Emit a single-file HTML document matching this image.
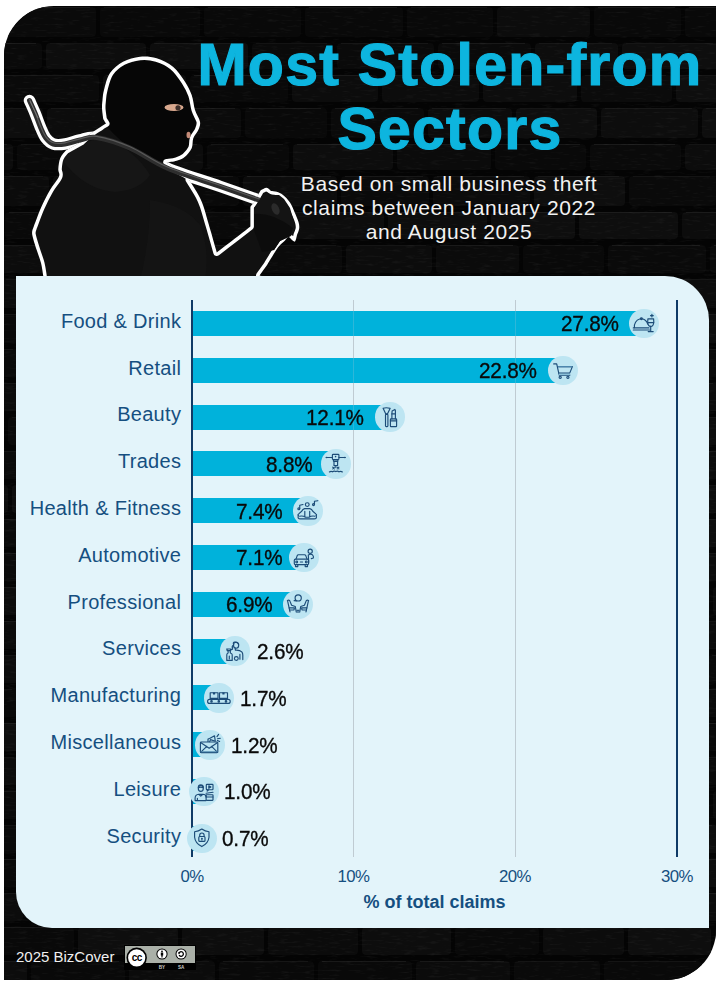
<!DOCTYPE html>
<html><head><meta charset="utf-8">
<style>
html,body{margin:0;padding:0;width:720px;height:986px;overflow:hidden;background:#fff;font-family:"Liberation Sans",sans-serif;}
.frame{position:absolute;left:4px;top:6px;width:712px;height:974px;background:#040404;border-radius:50px 0 50px 0;overflow:hidden}
.panel{position:absolute;left:16px;top:276px;width:693px;height:652px;background:#e3f4fa;border-radius:0 44px 0 36px}
.title{position:absolute;left:90px;width:720px;text-align:center;color:#0db5df;font-weight:bold;white-space:nowrap;-webkit-text-stroke:1.2px #0db5df}
.sub{position:absolute;left:250.5px;width:397px;text-align:center;color:#f2f2f2;font-size:21px;line-height:24px;letter-spacing:0.6px;white-space:nowrap}
.lab{position:absolute;right:538.8px;font-size:20px;color:#154f80;white-space:nowrap;line-height:24px;letter-spacing:0.3px}
.bar{position:absolute;left:193px;height:25px;background:#00b2db}
.circ{position:absolute;width:29.5px;height:29.5px;border-radius:50%;background:#bde5f2}
.pct{position:absolute;font-size:22.5px;letter-spacing:-0.2px;-webkit-text-stroke:0.35px #0a0a0a;color:#0a0a0a;white-space:nowrap;line-height:24px}
.axis{position:absolute;left:191px;top:300px;width:2px;height:557px;background:#0f3a66}
.grid{position:absolute;top:300px;width:1px;height:557px;background:#c3cdd2}
.tick{position:absolute;top:866.8px;font-size:16.8px;letter-spacing:-0.55px;color:#154f80;width:60px;text-align:center;white-space:nowrap}
.xt{position:absolute;top:892px;left:192px;width:485px;text-align:center;font-weight:bold;font-size:18px;color:#154f80}
.foot{position:absolute;left:16px;top:948px;font-size:15px;color:#f0f0f0;white-space:nowrap}
</style></head><body>
<div class="frame"><!--BRICKS--><svg width="712" height="974" style="position:absolute;left:0;top:0"><rect x="2" y="1" width="90" height="30" rx="4" fill="rgb(10,10,10)"/><path d="M6,1.5 H86" stroke="rgb(30,30,30)" stroke-width="1" opacity="0.7"/><rect x="96" y="1" width="100" height="30" rx="4" fill="rgb(9,9,9)"/><path d="M100,1.5 H190" stroke="rgb(25,25,25)" stroke-width="1" opacity="0.7"/><rect x="200" y="1" width="97" height="30" rx="4" fill="rgb(9,9,9)"/><path d="M204,1.5 H291" stroke="rgb(29,29,29)" stroke-width="1" opacity="0.7"/><rect x="301" y="1" width="98" height="30" rx="4" fill="rgb(9,9,9)"/><path d="M305,1.5 H393" stroke="rgb(32,32,32)" stroke-width="1" opacity="0.7"/><rect x="403" y="1" width="86" height="30" rx="4" fill="rgb(9,9,9)"/><path d="M407,1.5 H483" stroke="rgb(25,25,25)" stroke-width="1" opacity="0.7"/><rect x="493" y="1" width="93" height="30" rx="4" fill="rgb(12,12,12)"/><path d="M497,1.5 H580" stroke="rgb(25,25,25)" stroke-width="1" opacity="0.7"/><rect x="590" y="1" width="87" height="30" rx="4" fill="rgb(9,9,9)"/><path d="M594,1.5 H671" stroke="rgb(32,32,32)" stroke-width="1" opacity="0.7"/><rect x="681" y="1" width="93" height="30" rx="4" fill="rgb(9,9,9)"/><path d="M685,1.5 H768" stroke="rgb(33,33,33)" stroke-width="1" opacity="0.7"/><rect x="-45" y="37" width="83" height="26" rx="4" fill="rgb(10,10,10)"/><path d="M-41,37.5 H32" stroke="rgb(34,34,34)" stroke-width="1" opacity="0.7"/><rect x="42" y="37" width="100" height="26" rx="4" fill="rgb(13,13,13)"/><path d="M46,37.5 H136" stroke="rgb(24,24,24)" stroke-width="1" opacity="0.7"/><rect x="146" y="37" width="98" height="26" rx="4" fill="rgb(13,13,13)"/><path d="M150,37.5 H238" stroke="rgb(30,30,30)" stroke-width="1" opacity="0.7"/><rect x="248" y="37" width="81" height="26" rx="4" fill="rgb(10,10,10)"/><path d="M252,37.5 H323" stroke="rgb(24,24,24)" stroke-width="1" opacity="0.7"/><rect x="333" y="37" width="97" height="26" rx="4" fill="rgb(10,10,10)"/><path d="M337,37.5 H424" stroke="rgb(28,28,28)" stroke-width="1" opacity="0.7"/><rect x="434" y="37" width="93" height="26" rx="4" fill="rgb(10,10,10)"/><path d="M438,37.5 H521" stroke="rgb(32,32,32)" stroke-width="1" opacity="0.7"/><rect x="531" y="37" width="83" height="26" rx="4" fill="rgb(13,13,13)"/><path d="M535,37.5 H608" stroke="rgb(28,28,28)" stroke-width="1" opacity="0.7"/><rect x="618" y="37" width="97" height="26" rx="4" fill="rgb(14,14,14)"/><path d="M622,37.5 H709" stroke="rgb(26,26,26)" stroke-width="1" opacity="0.7"/><rect x="-92" y="69" width="83" height="27" rx="4" fill="rgb(13,13,13)"/><path d="M-88,69.5 H-15" stroke="rgb(33,33,33)" stroke-width="1" opacity="0.7"/><rect x="-5" y="69" width="100" height="27" rx="4" fill="rgb(10,10,10)"/><path d="M-1,69.5 H89" stroke="rgb(29,29,29)" stroke-width="1" opacity="0.7"/><rect x="99" y="69" width="83" height="27" rx="4" fill="rgb(13,13,13)"/><path d="M103,69.5 H176" stroke="rgb(25,25,25)" stroke-width="1" opacity="0.7"/><rect x="186" y="69" width="98" height="27" rx="4" fill="rgb(9,9,9)"/><path d="M190,69.5 H278" stroke="rgb(33,33,33)" stroke-width="1" opacity="0.7"/><rect x="288" y="69" width="86" height="27" rx="4" fill="rgb(12,12,12)"/><path d="M292,69.5 H368" stroke="rgb(34,34,34)" stroke-width="1" opacity="0.7"/><rect x="378" y="69" width="97" height="27" rx="4" fill="rgb(12,12,12)"/><path d="M382,69.5 H469" stroke="rgb(29,29,29)" stroke-width="1" opacity="0.7"/><rect x="479" y="69" width="94" height="27" rx="4" fill="rgb(13,13,13)"/><path d="M483,69.5 H567" stroke="rgb(31,31,31)" stroke-width="1" opacity="0.7"/><rect x="577" y="69" width="91" height="27" rx="4" fill="rgb(11,11,11)"/><path d="M581,69.5 H662" stroke="rgb(27,27,27)" stroke-width="1" opacity="0.7"/><rect x="672" y="69" width="85" height="27" rx="4" fill="rgb(14,14,14)"/><path d="M676,69.5 H751" stroke="rgb(27,27,27)" stroke-width="1" opacity="0.7"/><rect x="-43" y="102" width="82" height="30" rx="4" fill="rgb(13,13,13)"/><path d="M-39,102.5 H33" stroke="rgb(28,28,28)" stroke-width="1" opacity="0.7"/><rect x="43" y="102" width="96" height="30" rx="4" fill="rgb(12,12,12)"/><path d="M47,102.5 H133" stroke="rgb(29,29,29)" stroke-width="1" opacity="0.7"/><rect x="143" y="102" width="94" height="30" rx="4" fill="rgb(11,11,11)"/><path d="M147,102.5 H231" stroke="rgb(33,33,33)" stroke-width="1" opacity="0.7"/><rect x="241" y="102" width="82" height="30" rx="4" fill="rgb(9,9,9)"/><path d="M245,102.5 H317" stroke="rgb(32,32,32)" stroke-width="1" opacity="0.7"/><rect x="327" y="102" width="93" height="30" rx="4" fill="rgb(10,10,10)"/><path d="M331,102.5 H414" stroke="rgb(29,29,29)" stroke-width="1" opacity="0.7"/><rect x="424" y="102" width="84" height="30" rx="4" fill="rgb(12,12,12)"/><path d="M428,102.5 H502" stroke="rgb(30,30,30)" stroke-width="1" opacity="0.7"/><rect x="512" y="102" width="81" height="30" rx="4" fill="rgb(14,14,14)"/><path d="M516,102.5 H587" stroke="rgb(25,25,25)" stroke-width="1" opacity="0.7"/><rect x="597" y="102" width="97" height="30" rx="4" fill="rgb(13,13,13)"/><path d="M601,102.5 H688" stroke="rgb(29,29,29)" stroke-width="1" opacity="0.7"/><rect x="698" y="102" width="90" height="30" rx="4" fill="rgb(14,14,14)"/><path d="M702,102.5 H782" stroke="rgb(29,29,29)" stroke-width="1" opacity="0.7"/><rect x="-90" y="138" width="99" height="26" rx="4" fill="rgb(12,12,12)"/><path d="M-86,138.5 H3" stroke="rgb(33,33,33)" stroke-width="1" opacity="0.7"/><rect x="13" y="138" width="94" height="26" rx="4" fill="rgb(9,9,9)"/><path d="M17,138.5 H101" stroke="rgb(25,25,25)" stroke-width="1" opacity="0.7"/><rect x="111" y="138" width="88" height="26" rx="4" fill="rgb(12,12,12)"/><path d="M115,138.5 H193" stroke="rgb(34,34,34)" stroke-width="1" opacity="0.7"/><rect x="203" y="138" width="82" height="26" rx="4" fill="rgb(9,9,9)"/><path d="M207,138.5 H279" stroke="rgb(28,28,28)" stroke-width="1" opacity="0.7"/><rect x="289" y="138" width="100" height="26" rx="4" fill="rgb(13,13,13)"/><path d="M293,138.5 H383" stroke="rgb(34,34,34)" stroke-width="1" opacity="0.7"/><rect x="393" y="138" width="94" height="26" rx="4" fill="rgb(11,11,11)"/><path d="M397,138.5 H481" stroke="rgb(30,30,30)" stroke-width="1" opacity="0.7"/><rect x="491" y="138" width="91" height="26" rx="4" fill="rgb(9,9,9)"/><path d="M495,138.5 H576" stroke="rgb(31,31,31)" stroke-width="1" opacity="0.7"/><rect x="586" y="138" width="91" height="26" rx="4" fill="rgb(10,10,10)"/><path d="M590,138.5 H671" stroke="rgb(33,33,33)" stroke-width="1" opacity="0.7"/><rect x="681" y="138" width="83" height="26" rx="4" fill="rgb(12,12,12)"/><path d="M685,138.5 H758" stroke="rgb(24,24,24)" stroke-width="1" opacity="0.7"/><rect x="-41" y="170" width="86" height="30" rx="4" fill="rgb(11,11,11)"/><path d="M-37,170.5 H39" stroke="rgb(26,26,26)" stroke-width="1" opacity="0.7"/><rect x="49" y="170" width="87" height="30" rx="4" fill="rgb(12,12,12)"/><path d="M53,170.5 H130" stroke="rgb(30,30,30)" stroke-width="1" opacity="0.7"/><rect x="140" y="170" width="95" height="30" rx="4" fill="rgb(9,9,9)"/><path d="M144,170.5 H229" stroke="rgb(26,26,26)" stroke-width="1" opacity="0.7"/><rect x="239" y="170" width="94" height="30" rx="4" fill="rgb(12,12,12)"/><path d="M243,170.5 H327" stroke="rgb(32,32,32)" stroke-width="1" opacity="0.7"/><rect x="337" y="170" width="88" height="30" rx="4" fill="rgb(10,10,10)"/><path d="M341,170.5 H419" stroke="rgb(30,30,30)" stroke-width="1" opacity="0.7"/><rect x="429" y="170" width="97" height="30" rx="4" fill="rgb(11,11,11)"/><path d="M433,170.5 H520" stroke="rgb(30,30,30)" stroke-width="1" opacity="0.7"/><rect x="530" y="170" width="91" height="30" rx="4" fill="rgb(14,14,14)"/><path d="M534,170.5 H615" stroke="rgb(30,30,30)" stroke-width="1" opacity="0.7"/><rect x="625" y="170" width="87" height="30" rx="4" fill="rgb(10,10,10)"/><path d="M629,170.5 H706" stroke="rgb(25,25,25)" stroke-width="1" opacity="0.7"/><rect x="-88" y="206" width="85" height="27" rx="4" fill="rgb(10,10,10)"/><path d="M-84,206.5 H-9" stroke="rgb(27,27,27)" stroke-width="1" opacity="0.7"/><rect x="1" y="206" width="87" height="27" rx="4" fill="rgb(9,9,9)"/><path d="M5,206.5 H82" stroke="rgb(31,31,31)" stroke-width="1" opacity="0.7"/><rect x="92" y="206" width="98" height="27" rx="4" fill="rgb(10,10,10)"/><path d="M96,206.5 H184" stroke="rgb(28,28,28)" stroke-width="1" opacity="0.7"/><rect x="194" y="206" width="89" height="27" rx="4" fill="rgb(9,9,9)"/><path d="M198,206.5 H277" stroke="rgb(26,26,26)" stroke-width="1" opacity="0.7"/><rect x="287" y="206" width="93" height="27" rx="4" fill="rgb(13,13,13)"/><path d="M291,206.5 H374" stroke="rgb(29,29,29)" stroke-width="1" opacity="0.7"/><rect x="384" y="206" width="99" height="27" rx="4" fill="rgb(13,13,13)"/><path d="M388,206.5 H477" stroke="rgb(29,29,29)" stroke-width="1" opacity="0.7"/><rect x="487" y="206" width="84" height="27" rx="4" fill="rgb(14,14,14)"/><path d="M491,206.5 H565" stroke="rgb(32,32,32)" stroke-width="1" opacity="0.7"/><rect x="575" y="206" width="99" height="27" rx="4" fill="rgb(14,14,14)"/><path d="M579,206.5 H668" stroke="rgb(34,34,34)" stroke-width="1" opacity="0.7"/><rect x="678" y="206" width="81" height="27" rx="4" fill="rgb(12,12,12)"/><path d="M682,206.5 H753" stroke="rgb(34,34,34)" stroke-width="1" opacity="0.7"/><rect x="-39" y="239" width="97" height="28" rx="4" fill="rgb(12,12,12)"/><path d="M-35,239.5 H52" stroke="rgb(30,30,30)" stroke-width="1" opacity="0.7"/><rect x="62" y="239" width="92" height="28" rx="4" fill="rgb(12,12,12)"/><path d="M66,239.5 H148" stroke="rgb(25,25,25)" stroke-width="1" opacity="0.7"/><rect x="158" y="239" width="95" height="28" rx="4" fill="rgb(14,14,14)"/><path d="M162,239.5 H247" stroke="rgb(30,30,30)" stroke-width="1" opacity="0.7"/><rect x="257" y="239" width="81" height="28" rx="4" fill="rgb(10,10,10)"/><path d="M261,239.5 H332" stroke="rgb(25,25,25)" stroke-width="1" opacity="0.7"/><rect x="342" y="239" width="86" height="28" rx="4" fill="rgb(12,12,12)"/><path d="M346,239.5 H422" stroke="rgb(26,26,26)" stroke-width="1" opacity="0.7"/><rect x="432" y="239" width="83" height="28" rx="4" fill="rgb(11,11,11)"/><path d="M436,239.5 H509" stroke="rgb(33,33,33)" stroke-width="1" opacity="0.7"/><rect x="519" y="239" width="81" height="28" rx="4" fill="rgb(9,9,9)"/><path d="M523,239.5 H594" stroke="rgb(24,24,24)" stroke-width="1" opacity="0.7"/><rect x="604" y="239" width="98" height="28" rx="4" fill="rgb(10,10,10)"/><path d="M608,239.5 H696" stroke="rgb(32,32,32)" stroke-width="1" opacity="0.7"/><rect x="706" y="239" width="83" height="28" rx="4" fill="rgb(11,11,11)"/><path d="M710,239.5 H783" stroke="rgb(33,33,33)" stroke-width="1" opacity="0.7"/><rect x="-86" y="273" width="80" height="29" rx="4" fill="rgb(9,9,9)"/><path d="M-82,273.5 H-12" stroke="rgb(27,27,27)" stroke-width="1" opacity="0.7"/><rect x="-2" y="273" width="99" height="29" rx="4" fill="rgb(12,12,12)"/><path d="M2,273.5 H91" stroke="rgb(26,26,26)" stroke-width="1" opacity="0.7"/><rect x="101" y="273" width="100" height="29" rx="4" fill="rgb(11,11,11)"/><path d="M105,273.5 H195" stroke="rgb(29,29,29)" stroke-width="1" opacity="0.7"/><rect x="205" y="273" width="99" height="29" rx="4" fill="rgb(11,11,11)"/><path d="M209,273.5 H298" stroke="rgb(31,31,31)" stroke-width="1" opacity="0.7"/><rect x="308" y="273" width="83" height="29" rx="4" fill="rgb(9,9,9)"/><path d="M312,273.5 H385" stroke="rgb(31,31,31)" stroke-width="1" opacity="0.7"/><rect x="395" y="273" width="94" height="29" rx="4" fill="rgb(12,12,12)"/><path d="M399,273.5 H483" stroke="rgb(31,31,31)" stroke-width="1" opacity="0.7"/><rect x="493" y="273" width="89" height="29" rx="4" fill="rgb(9,9,9)"/><path d="M497,273.5 H576" stroke="rgb(26,26,26)" stroke-width="1" opacity="0.7"/><rect x="586" y="273" width="83" height="29" rx="4" fill="rgb(14,14,14)"/><path d="M590,273.5 H663" stroke="rgb(29,29,29)" stroke-width="1" opacity="0.7"/><rect x="673" y="273" width="88" height="29" rx="4" fill="rgb(12,12,12)"/><path d="M677,273.5 H755" stroke="rgb(26,26,26)" stroke-width="1" opacity="0.7"/><rect x="-37" y="308" width="96" height="29" rx="4" fill="rgb(9,9,9)"/><path d="M-33,308.5 H53" stroke="rgb(27,27,27)" stroke-width="1" opacity="0.7"/><rect x="63" y="308" width="96" height="29" rx="4" fill="rgb(11,11,11)"/><path d="M67,308.5 H153" stroke="rgb(26,26,26)" stroke-width="1" opacity="0.7"/><rect x="163" y="308" width="97" height="29" rx="4" fill="rgb(9,9,9)"/><path d="M167,308.5 H254" stroke="rgb(32,32,32)" stroke-width="1" opacity="0.7"/><rect x="264" y="308" width="89" height="29" rx="4" fill="rgb(14,14,14)"/><path d="M268,308.5 H347" stroke="rgb(25,25,25)" stroke-width="1" opacity="0.7"/><rect x="357" y="308" width="88" height="29" rx="4" fill="rgb(13,13,13)"/><path d="M361,308.5 H439" stroke="rgb(29,29,29)" stroke-width="1" opacity="0.7"/><rect x="449" y="308" width="85" height="29" rx="4" fill="rgb(11,11,11)"/><path d="M453,308.5 H528" stroke="rgb(27,27,27)" stroke-width="1" opacity="0.7"/><rect x="538" y="308" width="97" height="29" rx="4" fill="rgb(13,13,13)"/><path d="M542,308.5 H629" stroke="rgb(32,32,32)" stroke-width="1" opacity="0.7"/><rect x="639" y="308" width="90" height="29" rx="4" fill="rgb(14,14,14)"/><path d="M643,308.5 H723" stroke="rgb(27,27,27)" stroke-width="1" opacity="0.7"/><rect x="-84" y="343" width="99" height="28" rx="4" fill="rgb(10,10,10)"/><path d="M-80,343.5 H9" stroke="rgb(27,27,27)" stroke-width="1" opacity="0.7"/><rect x="19" y="343" width="92" height="28" rx="4" fill="rgb(14,14,14)"/><path d="M23,343.5 H105" stroke="rgb(27,27,27)" stroke-width="1" opacity="0.7"/><rect x="115" y="343" width="86" height="28" rx="4" fill="rgb(13,13,13)"/><path d="M119,343.5 H195" stroke="rgb(31,31,31)" stroke-width="1" opacity="0.7"/><rect x="205" y="343" width="91" height="28" rx="4" fill="rgb(14,14,14)"/><path d="M209,343.5 H290" stroke="rgb(24,24,24)" stroke-width="1" opacity="0.7"/><rect x="300" y="343" width="80" height="28" rx="4" fill="rgb(11,11,11)"/><path d="M304,343.5 H374" stroke="rgb(31,31,31)" stroke-width="1" opacity="0.7"/><rect x="384" y="343" width="88" height="28" rx="4" fill="rgb(10,10,10)"/><path d="M388,343.5 H466" stroke="rgb(33,33,33)" stroke-width="1" opacity="0.7"/><rect x="476" y="343" width="91" height="28" rx="4" fill="rgb(12,12,12)"/><path d="M480,343.5 H561" stroke="rgb(29,29,29)" stroke-width="1" opacity="0.7"/><rect x="571" y="343" width="91" height="28" rx="4" fill="rgb(9,9,9)"/><path d="M575,343.5 H656" stroke="rgb(27,27,27)" stroke-width="1" opacity="0.7"/><rect x="666" y="343" width="83" height="28" rx="4" fill="rgb(10,10,10)"/><path d="M670,343.5 H743" stroke="rgb(31,31,31)" stroke-width="1" opacity="0.7"/><rect x="-35" y="377" width="86" height="28" rx="4" fill="rgb(11,11,11)"/><path d="M-31,377.5 H45" stroke="rgb(27,27,27)" stroke-width="1" opacity="0.7"/><rect x="55" y="377" width="95" height="28" rx="4" fill="rgb(13,13,13)"/><path d="M59,377.5 H144" stroke="rgb(33,33,33)" stroke-width="1" opacity="0.7"/><rect x="154" y="377" width="80" height="28" rx="4" fill="rgb(12,12,12)"/><path d="M158,377.5 H228" stroke="rgb(34,34,34)" stroke-width="1" opacity="0.7"/><rect x="238" y="377" width="91" height="28" rx="4" fill="rgb(14,14,14)"/><path d="M242,377.5 H323" stroke="rgb(25,25,25)" stroke-width="1" opacity="0.7"/><rect x="333" y="377" width="83" height="28" rx="4" fill="rgb(12,12,12)"/><path d="M337,377.5 H410" stroke="rgb(27,27,27)" stroke-width="1" opacity="0.7"/><rect x="420" y="377" width="95" height="28" rx="4" fill="rgb(10,10,10)"/><path d="M424,377.5 H509" stroke="rgb(30,30,30)" stroke-width="1" opacity="0.7"/><rect x="519" y="377" width="100" height="28" rx="4" fill="rgb(11,11,11)"/><path d="M523,377.5 H613" stroke="rgb(25,25,25)" stroke-width="1" opacity="0.7"/><rect x="623" y="377" width="92" height="28" rx="4" fill="rgb(12,12,12)"/><path d="M627,377.5 H709" stroke="rgb(30,30,30)" stroke-width="1" opacity="0.7"/><rect x="-82" y="411" width="82" height="28" rx="4" fill="rgb(14,14,14)"/><path d="M-78,411.5 H-6" stroke="rgb(26,26,26)" stroke-width="1" opacity="0.7"/><rect x="4" y="411" width="85" height="28" rx="4" fill="rgb(10,10,10)"/><path d="M8,411.5 H83" stroke="rgb(24,24,24)" stroke-width="1" opacity="0.7"/><rect x="93" y="411" width="84" height="28" rx="4" fill="rgb(13,13,13)"/><path d="M97,411.5 H171" stroke="rgb(31,31,31)" stroke-width="1" opacity="0.7"/><rect x="181" y="411" width="100" height="28" rx="4" fill="rgb(10,10,10)"/><path d="M185,411.5 H275" stroke="rgb(33,33,33)" stroke-width="1" opacity="0.7"/><rect x="285" y="411" width="99" height="28" rx="4" fill="rgb(12,12,12)"/><path d="M289,411.5 H378" stroke="rgb(34,34,34)" stroke-width="1" opacity="0.7"/><rect x="388" y="411" width="91" height="28" rx="4" fill="rgb(10,10,10)"/><path d="M392,411.5 H473" stroke="rgb(32,32,32)" stroke-width="1" opacity="0.7"/><rect x="483" y="411" width="97" height="28" rx="4" fill="rgb(10,10,10)"/><path d="M487,411.5 H574" stroke="rgb(24,24,24)" stroke-width="1" opacity="0.7"/><rect x="584" y="411" width="80" height="28" rx="4" fill="rgb(14,14,14)"/><path d="M588,411.5 H658" stroke="rgb(34,34,34)" stroke-width="1" opacity="0.7"/><rect x="668" y="411" width="83" height="28" rx="4" fill="rgb(13,13,13)"/><path d="M672,411.5 H745" stroke="rgb(26,26,26)" stroke-width="1" opacity="0.7"/><rect x="-33" y="445" width="93" height="28" rx="4" fill="rgb(10,10,10)"/><path d="M-29,445.5 H54" stroke="rgb(27,27,27)" stroke-width="1" opacity="0.7"/><rect x="64" y="445" width="80" height="28" rx="4" fill="rgb(11,11,11)"/><path d="M68,445.5 H138" stroke="rgb(27,27,27)" stroke-width="1" opacity="0.7"/><rect x="148" y="445" width="89" height="28" rx="4" fill="rgb(13,13,13)"/><path d="M152,445.5 H231" stroke="rgb(27,27,27)" stroke-width="1" opacity="0.7"/><rect x="241" y="445" width="98" height="28" rx="4" fill="rgb(11,11,11)"/><path d="M245,445.5 H333" stroke="rgb(28,28,28)" stroke-width="1" opacity="0.7"/><rect x="343" y="445" width="97" height="28" rx="4" fill="rgb(12,12,12)"/><path d="M347,445.5 H434" stroke="rgb(26,26,26)" stroke-width="1" opacity="0.7"/><rect x="444" y="445" width="81" height="28" rx="4" fill="rgb(14,14,14)"/><path d="M448,445.5 H519" stroke="rgb(29,29,29)" stroke-width="1" opacity="0.7"/><rect x="529" y="445" width="94" height="28" rx="4" fill="rgb(14,14,14)"/><path d="M533,445.5 H617" stroke="rgb(33,33,33)" stroke-width="1" opacity="0.7"/><rect x="627" y="445" width="96" height="28" rx="4" fill="rgb(12,12,12)"/><path d="M631,445.5 H717" stroke="rgb(32,32,32)" stroke-width="1" opacity="0.7"/><rect x="-80" y="479" width="84" height="28" rx="4" fill="rgb(13,13,13)"/><path d="M-76,479.5 H-2" stroke="rgb(26,26,26)" stroke-width="1" opacity="0.7"/><rect x="8" y="479" width="96" height="28" rx="4" fill="rgb(13,13,13)"/><path d="M12,479.5 H98" stroke="rgb(24,24,24)" stroke-width="1" opacity="0.7"/><rect x="108" y="479" width="94" height="28" rx="4" fill="rgb(10,10,10)"/><path d="M112,479.5 H196" stroke="rgb(33,33,33)" stroke-width="1" opacity="0.7"/><rect x="206" y="479" width="80" height="28" rx="4" fill="rgb(10,10,10)"/><path d="M210,479.5 H280" stroke="rgb(26,26,26)" stroke-width="1" opacity="0.7"/><rect x="290" y="479" width="84" height="28" rx="4" fill="rgb(12,12,12)"/><path d="M294,479.5 H368" stroke="rgb(33,33,33)" stroke-width="1" opacity="0.7"/><rect x="378" y="479" width="83" height="28" rx="4" fill="rgb(13,13,13)"/><path d="M382,479.5 H455" stroke="rgb(24,24,24)" stroke-width="1" opacity="0.7"/><rect x="465" y="479" width="90" height="28" rx="4" fill="rgb(14,14,14)"/><path d="M469,479.5 H549" stroke="rgb(32,32,32)" stroke-width="1" opacity="0.7"/><rect x="559" y="479" width="96" height="28" rx="4" fill="rgb(13,13,13)"/><path d="M563,479.5 H649" stroke="rgb(31,31,31)" stroke-width="1" opacity="0.7"/><rect x="659" y="479" width="83" height="28" rx="4" fill="rgb(13,13,13)"/><path d="M663,479.5 H736" stroke="rgb(24,24,24)" stroke-width="1" opacity="0.7"/><rect x="-31" y="513" width="87" height="28" rx="4" fill="rgb(10,10,10)"/><path d="M-27,513.5 H50" stroke="rgb(28,28,28)" stroke-width="1" opacity="0.7"/><rect x="60" y="513" width="81" height="28" rx="4" fill="rgb(9,9,9)"/><path d="M64,513.5 H135" stroke="rgb(32,32,32)" stroke-width="1" opacity="0.7"/><rect x="145" y="513" width="94" height="28" rx="4" fill="rgb(13,13,13)"/><path d="M149,513.5 H233" stroke="rgb(24,24,24)" stroke-width="1" opacity="0.7"/><rect x="243" y="513" width="82" height="28" rx="4" fill="rgb(12,12,12)"/><path d="M247,513.5 H319" stroke="rgb(29,29,29)" stroke-width="1" opacity="0.7"/><rect x="329" y="513" width="99" height="28" rx="4" fill="rgb(13,13,13)"/><path d="M333,513.5 H422" stroke="rgb(33,33,33)" stroke-width="1" opacity="0.7"/><rect x="432" y="513" width="96" height="28" rx="4" fill="rgb(10,10,10)"/><path d="M436,513.5 H522" stroke="rgb(28,28,28)" stroke-width="1" opacity="0.7"/><rect x="532" y="513" width="94" height="28" rx="4" fill="rgb(13,13,13)"/><path d="M536,513.5 H620" stroke="rgb(32,32,32)" stroke-width="1" opacity="0.7"/><rect x="630" y="513" width="95" height="28" rx="4" fill="rgb(13,13,13)"/><path d="M634,513.5 H719" stroke="rgb(27,27,27)" stroke-width="1" opacity="0.7"/><rect x="-78" y="547" width="96" height="28" rx="4" fill="rgb(11,11,11)"/><path d="M-74,547.5 H12" stroke="rgb(32,32,32)" stroke-width="1" opacity="0.7"/><rect x="22" y="547" width="86" height="28" rx="4" fill="rgb(12,12,12)"/><path d="M26,547.5 H102" stroke="rgb(26,26,26)" stroke-width="1" opacity="0.7"/><rect x="112" y="547" width="93" height="28" rx="4" fill="rgb(9,9,9)"/><path d="M116,547.5 H199" stroke="rgb(30,30,30)" stroke-width="1" opacity="0.7"/><rect x="209" y="547" width="94" height="28" rx="4" fill="rgb(11,11,11)"/><path d="M213,547.5 H297" stroke="rgb(25,25,25)" stroke-width="1" opacity="0.7"/><rect x="307" y="547" width="87" height="28" rx="4" fill="rgb(12,12,12)"/><path d="M311,547.5 H388" stroke="rgb(25,25,25)" stroke-width="1" opacity="0.7"/><rect x="398" y="547" width="86" height="28" rx="4" fill="rgb(14,14,14)"/><path d="M402,547.5 H478" stroke="rgb(28,28,28)" stroke-width="1" opacity="0.7"/><rect x="488" y="547" width="83" height="28" rx="4" fill="rgb(10,10,10)"/><path d="M492,547.5 H565" stroke="rgb(34,34,34)" stroke-width="1" opacity="0.7"/><rect x="575" y="547" width="91" height="28" rx="4" fill="rgb(10,10,10)"/><path d="M579,547.5 H660" stroke="rgb(28,28,28)" stroke-width="1" opacity="0.7"/><rect x="670" y="547" width="84" height="28" rx="4" fill="rgb(12,12,12)"/><path d="M674,547.5 H748" stroke="rgb(27,27,27)" stroke-width="1" opacity="0.7"/><rect x="-29" y="581" width="83" height="28" rx="4" fill="rgb(12,12,12)"/><path d="M-25,581.5 H48" stroke="rgb(31,31,31)" stroke-width="1" opacity="0.7"/><rect x="58" y="581" width="85" height="28" rx="4" fill="rgb(14,14,14)"/><path d="M62,581.5 H137" stroke="rgb(27,27,27)" stroke-width="1" opacity="0.7"/><rect x="147" y="581" width="85" height="28" rx="4" fill="rgb(14,14,14)"/><path d="M151,581.5 H226" stroke="rgb(30,30,30)" stroke-width="1" opacity="0.7"/><rect x="236" y="581" width="96" height="28" rx="4" fill="rgb(12,12,12)"/><path d="M240,581.5 H326" stroke="rgb(29,29,29)" stroke-width="1" opacity="0.7"/><rect x="336" y="581" width="93" height="28" rx="4" fill="rgb(10,10,10)"/><path d="M340,581.5 H423" stroke="rgb(29,29,29)" stroke-width="1" opacity="0.7"/><rect x="433" y="581" width="90" height="28" rx="4" fill="rgb(9,9,9)"/><path d="M437,581.5 H517" stroke="rgb(29,29,29)" stroke-width="1" opacity="0.7"/><rect x="527" y="581" width="80" height="28" rx="4" fill="rgb(11,11,11)"/><path d="M531,581.5 H601" stroke="rgb(32,32,32)" stroke-width="1" opacity="0.7"/><rect x="611" y="581" width="94" height="28" rx="4" fill="rgb(12,12,12)"/><path d="M615,581.5 H699" stroke="rgb(24,24,24)" stroke-width="1" opacity="0.7"/><rect x="709" y="581" width="92" height="28" rx="4" fill="rgb(11,11,11)"/><path d="M713,581.5 H795" stroke="rgb(32,32,32)" stroke-width="1" opacity="0.7"/><rect x="-76" y="615" width="99" height="28" rx="4" fill="rgb(11,11,11)"/><path d="M-72,615.5 H17" stroke="rgb(32,32,32)" stroke-width="1" opacity="0.7"/><rect x="27" y="615" width="82" height="28" rx="4" fill="rgb(9,9,9)"/><path d="M31,615.5 H103" stroke="rgb(27,27,27)" stroke-width="1" opacity="0.7"/><rect x="113" y="615" width="83" height="28" rx="4" fill="rgb(9,9,9)"/><path d="M117,615.5 H190" stroke="rgb(28,28,28)" stroke-width="1" opacity="0.7"/><rect x="200" y="615" width="88" height="28" rx="4" fill="rgb(9,9,9)"/><path d="M204,615.5 H282" stroke="rgb(26,26,26)" stroke-width="1" opacity="0.7"/><rect x="292" y="615" width="88" height="28" rx="4" fill="rgb(10,10,10)"/><path d="M296,615.5 H374" stroke="rgb(30,30,30)" stroke-width="1" opacity="0.7"/><rect x="384" y="615" width="88" height="28" rx="4" fill="rgb(12,12,12)"/><path d="M388,615.5 H466" stroke="rgb(26,26,26)" stroke-width="1" opacity="0.7"/><rect x="476" y="615" width="97" height="28" rx="4" fill="rgb(13,13,13)"/><path d="M480,615.5 H567" stroke="rgb(33,33,33)" stroke-width="1" opacity="0.7"/><rect x="577" y="615" width="95" height="28" rx="4" fill="rgb(14,14,14)"/><path d="M581,615.5 H666" stroke="rgb(29,29,29)" stroke-width="1" opacity="0.7"/><rect x="676" y="615" width="82" height="28" rx="4" fill="rgb(11,11,11)"/><path d="M680,615.5 H752" stroke="rgb(24,24,24)" stroke-width="1" opacity="0.7"/><rect x="-27" y="649" width="85" height="28" rx="4" fill="rgb(12,12,12)"/><path d="M-23,649.5 H52" stroke="rgb(25,25,25)" stroke-width="1" opacity="0.7"/><rect x="62" y="649" width="88" height="28" rx="4" fill="rgb(9,9,9)"/><path d="M66,649.5 H144" stroke="rgb(34,34,34)" stroke-width="1" opacity="0.7"/><rect x="154" y="649" width="82" height="28" rx="4" fill="rgb(11,11,11)"/><path d="M158,649.5 H230" stroke="rgb(25,25,25)" stroke-width="1" opacity="0.7"/><rect x="240" y="649" width="99" height="28" rx="4" fill="rgb(10,10,10)"/><path d="M244,649.5 H333" stroke="rgb(25,25,25)" stroke-width="1" opacity="0.7"/><rect x="343" y="649" width="88" height="28" rx="4" fill="rgb(9,9,9)"/><path d="M347,649.5 H425" stroke="rgb(31,31,31)" stroke-width="1" opacity="0.7"/><rect x="435" y="649" width="80" height="28" rx="4" fill="rgb(11,11,11)"/><path d="M439,649.5 H509" stroke="rgb(32,32,32)" stroke-width="1" opacity="0.7"/><rect x="519" y="649" width="93" height="28" rx="4" fill="rgb(11,11,11)"/><path d="M523,649.5 H606" stroke="rgb(33,33,33)" stroke-width="1" opacity="0.7"/><rect x="616" y="649" width="84" height="28" rx="4" fill="rgb(9,9,9)"/><path d="M620,649.5 H694" stroke="rgb(32,32,32)" stroke-width="1" opacity="0.7"/><rect x="704" y="649" width="87" height="28" rx="4" fill="rgb(9,9,9)"/><path d="M708,649.5 H785" stroke="rgb(26,26,26)" stroke-width="1" opacity="0.7"/><rect x="-74" y="683" width="88" height="28" rx="4" fill="rgb(9,9,9)"/><path d="M-70,683.5 H8" stroke="rgb(26,26,26)" stroke-width="1" opacity="0.7"/><rect x="18" y="683" width="86" height="28" rx="4" fill="rgb(11,11,11)"/><path d="M22,683.5 H98" stroke="rgb(34,34,34)" stroke-width="1" opacity="0.7"/><rect x="108" y="683" width="89" height="28" rx="4" fill="rgb(13,13,13)"/><path d="M112,683.5 H191" stroke="rgb(27,27,27)" stroke-width="1" opacity="0.7"/><rect x="201" y="683" width="89" height="28" rx="4" fill="rgb(12,12,12)"/><path d="M205,683.5 H284" stroke="rgb(32,32,32)" stroke-width="1" opacity="0.7"/><rect x="294" y="683" width="85" height="28" rx="4" fill="rgb(11,11,11)"/><path d="M298,683.5 H373" stroke="rgb(29,29,29)" stroke-width="1" opacity="0.7"/><rect x="383" y="683" width="80" height="28" rx="4" fill="rgb(11,11,11)"/><path d="M387,683.5 H457" stroke="rgb(24,24,24)" stroke-width="1" opacity="0.7"/><rect x="467" y="683" width="80" height="28" rx="4" fill="rgb(9,9,9)"/><path d="M471,683.5 H541" stroke="rgb(32,32,32)" stroke-width="1" opacity="0.7"/><rect x="551" y="683" width="97" height="28" rx="4" fill="rgb(10,10,10)"/><path d="M555,683.5 H642" stroke="rgb(32,32,32)" stroke-width="1" opacity="0.7"/><rect x="652" y="683" width="95" height="28" rx="4" fill="rgb(10,10,10)"/><path d="M656,683.5 H741" stroke="rgb(31,31,31)" stroke-width="1" opacity="0.7"/><rect x="-25" y="717" width="83" height="28" rx="4" fill="rgb(14,14,14)"/><path d="M-21,717.5 H52" stroke="rgb(34,34,34)" stroke-width="1" opacity="0.7"/><rect x="62" y="717" width="93" height="28" rx="4" fill="rgb(14,14,14)"/><path d="M66,717.5 H149" stroke="rgb(31,31,31)" stroke-width="1" opacity="0.7"/><rect x="159" y="717" width="97" height="28" rx="4" fill="rgb(12,12,12)"/><path d="M163,717.5 H250" stroke="rgb(32,32,32)" stroke-width="1" opacity="0.7"/><rect x="260" y="717" width="89" height="28" rx="4" fill="rgb(14,14,14)"/><path d="M264,717.5 H343" stroke="rgb(27,27,27)" stroke-width="1" opacity="0.7"/><rect x="353" y="717" width="87" height="28" rx="4" fill="rgb(11,11,11)"/><path d="M357,717.5 H434" stroke="rgb(27,27,27)" stroke-width="1" opacity="0.7"/><rect x="444" y="717" width="100" height="28" rx="4" fill="rgb(10,10,10)"/><path d="M448,717.5 H538" stroke="rgb(30,30,30)" stroke-width="1" opacity="0.7"/><rect x="548" y="717" width="91" height="28" rx="4" fill="rgb(9,9,9)"/><path d="M552,717.5 H633" stroke="rgb(26,26,26)" stroke-width="1" opacity="0.7"/><rect x="643" y="717" width="80" height="28" rx="4" fill="rgb(9,9,9)"/><path d="M647,717.5 H717" stroke="rgb(34,34,34)" stroke-width="1" opacity="0.7"/><rect x="-72" y="751" width="88" height="28" rx="4" fill="rgb(12,12,12)"/><path d="M-68,751.5 H10" stroke="rgb(26,26,26)" stroke-width="1" opacity="0.7"/><rect x="20" y="751" width="81" height="28" rx="4" fill="rgb(9,9,9)"/><path d="M24,751.5 H95" stroke="rgb(34,34,34)" stroke-width="1" opacity="0.7"/><rect x="105" y="751" width="92" height="28" rx="4" fill="rgb(13,13,13)"/><path d="M109,751.5 H191" stroke="rgb(34,34,34)" stroke-width="1" opacity="0.7"/><rect x="201" y="751" width="89" height="28" rx="4" fill="rgb(13,13,13)"/><path d="M205,751.5 H284" stroke="rgb(27,27,27)" stroke-width="1" opacity="0.7"/><rect x="294" y="751" width="89" height="28" rx="4" fill="rgb(9,9,9)"/><path d="M298,751.5 H377" stroke="rgb(31,31,31)" stroke-width="1" opacity="0.7"/><rect x="387" y="751" width="85" height="28" rx="4" fill="rgb(10,10,10)"/><path d="M391,751.5 H466" stroke="rgb(28,28,28)" stroke-width="1" opacity="0.7"/><rect x="476" y="751" width="94" height="28" rx="4" fill="rgb(9,9,9)"/><path d="M480,751.5 H564" stroke="rgb(28,28,28)" stroke-width="1" opacity="0.7"/><rect x="574" y="751" width="91" height="28" rx="4" fill="rgb(11,11,11)"/><path d="M578,751.5 H659" stroke="rgb(32,32,32)" stroke-width="1" opacity="0.7"/><rect x="669" y="751" width="90" height="28" rx="4" fill="rgb(10,10,10)"/><path d="M673,751.5 H753" stroke="rgb(24,24,24)" stroke-width="1" opacity="0.7"/><rect x="-23" y="785" width="89" height="28" rx="4" fill="rgb(10,10,10)"/><path d="M-19,785.5 H60" stroke="rgb(29,29,29)" stroke-width="1" opacity="0.7"/><rect x="70" y="785" width="85" height="28" rx="4" fill="rgb(9,9,9)"/><path d="M74,785.5 H149" stroke="rgb(29,29,29)" stroke-width="1" opacity="0.7"/><rect x="159" y="785" width="92" height="28" rx="4" fill="rgb(9,9,9)"/><path d="M163,785.5 H245" stroke="rgb(31,31,31)" stroke-width="1" opacity="0.7"/><rect x="255" y="785" width="88" height="28" rx="4" fill="rgb(13,13,13)"/><path d="M259,785.5 H337" stroke="rgb(34,34,34)" stroke-width="1" opacity="0.7"/><rect x="347" y="785" width="86" height="28" rx="4" fill="rgb(10,10,10)"/><path d="M351,785.5 H427" stroke="rgb(32,32,32)" stroke-width="1" opacity="0.7"/><rect x="437" y="785" width="80" height="28" rx="4" fill="rgb(9,9,9)"/><path d="M441,785.5 H511" stroke="rgb(28,28,28)" stroke-width="1" opacity="0.7"/><rect x="521" y="785" width="82" height="28" rx="4" fill="rgb(10,10,10)"/><path d="M525,785.5 H597" stroke="rgb(30,30,30)" stroke-width="1" opacity="0.7"/><rect x="607" y="785" width="98" height="28" rx="4" fill="rgb(9,9,9)"/><path d="M611,785.5 H699" stroke="rgb(30,30,30)" stroke-width="1" opacity="0.7"/><rect x="709" y="785" width="80" height="28" rx="4" fill="rgb(11,11,11)"/><path d="M713,785.5 H783" stroke="rgb(28,28,28)" stroke-width="1" opacity="0.7"/><rect x="-70" y="819" width="100" height="28" rx="4" fill="rgb(10,10,10)"/><path d="M-66,819.5 H24" stroke="rgb(25,25,25)" stroke-width="1" opacity="0.7"/><rect x="34" y="819" width="98" height="28" rx="4" fill="rgb(13,13,13)"/><path d="M38,819.5 H126" stroke="rgb(26,26,26)" stroke-width="1" opacity="0.7"/><rect x="136" y="819" width="99" height="28" rx="4" fill="rgb(12,12,12)"/><path d="M140,819.5 H229" stroke="rgb(29,29,29)" stroke-width="1" opacity="0.7"/><rect x="239" y="819" width="95" height="28" rx="4" fill="rgb(10,10,10)"/><path d="M243,819.5 H328" stroke="rgb(28,28,28)" stroke-width="1" opacity="0.7"/><rect x="338" y="819" width="99" height="28" rx="4" fill="rgb(14,14,14)"/><path d="M342,819.5 H431" stroke="rgb(26,26,26)" stroke-width="1" opacity="0.7"/><rect x="441" y="819" width="81" height="28" rx="4" fill="rgb(14,14,14)"/><path d="M445,819.5 H516" stroke="rgb(32,32,32)" stroke-width="1" opacity="0.7"/><rect x="526" y="819" width="100" height="28" rx="4" fill="rgb(12,12,12)"/><path d="M530,819.5 H620" stroke="rgb(32,32,32)" stroke-width="1" opacity="0.7"/><rect x="630" y="819" width="84" height="28" rx="4" fill="rgb(13,13,13)"/><path d="M634,819.5 H708" stroke="rgb(32,32,32)" stroke-width="1" opacity="0.7"/><rect x="-21" y="853" width="98" height="28" rx="4" fill="rgb(9,9,9)"/><path d="M-17,853.5 H71" stroke="rgb(34,34,34)" stroke-width="1" opacity="0.7"/><rect x="81" y="853" width="98" height="28" rx="4" fill="rgb(14,14,14)"/><path d="M85,853.5 H173" stroke="rgb(34,34,34)" stroke-width="1" opacity="0.7"/><rect x="183" y="853" width="100" height="28" rx="4" fill="rgb(10,10,10)"/><path d="M187,853.5 H277" stroke="rgb(25,25,25)" stroke-width="1" opacity="0.7"/><rect x="287" y="853" width="80" height="28" rx="4" fill="rgb(9,9,9)"/><path d="M291,853.5 H361" stroke="rgb(26,26,26)" stroke-width="1" opacity="0.7"/><rect x="371" y="853" width="100" height="28" rx="4" fill="rgb(11,11,11)"/><path d="M375,853.5 H465" stroke="rgb(25,25,25)" stroke-width="1" opacity="0.7"/><rect x="475" y="853" width="92" height="28" rx="4" fill="rgb(12,12,12)"/><path d="M479,853.5 H561" stroke="rgb(32,32,32)" stroke-width="1" opacity="0.7"/><rect x="571" y="853" width="81" height="28" rx="4" fill="rgb(14,14,14)"/><path d="M575,853.5 H646" stroke="rgb(24,24,24)" stroke-width="1" opacity="0.7"/><rect x="656" y="853" width="100" height="28" rx="4" fill="rgb(13,13,13)"/><path d="M660,853.5 H750" stroke="rgb(34,34,34)" stroke-width="1" opacity="0.7"/><rect x="-68" y="887" width="87" height="28" rx="4" fill="rgb(12,12,12)"/><path d="M-64,887.5 H13" stroke="rgb(28,28,28)" stroke-width="1" opacity="0.7"/><rect x="23" y="887" width="80" height="28" rx="4" fill="rgb(12,12,12)"/><path d="M27,887.5 H97" stroke="rgb(25,25,25)" stroke-width="1" opacity="0.7"/><rect x="107" y="887" width="96" height="28" rx="4" fill="rgb(13,13,13)"/><path d="M111,887.5 H197" stroke="rgb(25,25,25)" stroke-width="1" opacity="0.7"/><rect x="207" y="887" width="96" height="28" rx="4" fill="rgb(9,9,9)"/><path d="M211,887.5 H297" stroke="rgb(31,31,31)" stroke-width="1" opacity="0.7"/><rect x="307" y="887" width="88" height="28" rx="4" fill="rgb(9,9,9)"/><path d="M311,887.5 H389" stroke="rgb(28,28,28)" stroke-width="1" opacity="0.7"/><rect x="399" y="887" width="87" height="28" rx="4" fill="rgb(14,14,14)"/><path d="M403,887.5 H480" stroke="rgb(27,27,27)" stroke-width="1" opacity="0.7"/><rect x="490" y="887" width="87" height="28" rx="4" fill="rgb(14,14,14)"/><path d="M494,887.5 H571" stroke="rgb(34,34,34)" stroke-width="1" opacity="0.7"/><rect x="581" y="887" width="94" height="28" rx="4" fill="rgb(12,12,12)"/><path d="M585,887.5 H669" stroke="rgb(30,30,30)" stroke-width="1" opacity="0.7"/><rect x="679" y="887" width="82" height="28" rx="4" fill="rgb(12,12,12)"/><path d="M683,887.5 H755" stroke="rgb(34,34,34)" stroke-width="1" opacity="0.7"/><rect x="-19" y="921" width="89" height="28" rx="4" fill="rgb(9,9,9)"/><path d="M-15,921.5 H64" stroke="rgb(33,33,33)" stroke-width="1" opacity="0.7"/><rect x="74" y="921" width="100" height="28" rx="4" fill="rgb(14,14,14)"/><path d="M78,921.5 H168" stroke="rgb(27,27,27)" stroke-width="1" opacity="0.7"/><rect x="178" y="921" width="82" height="28" rx="4" fill="rgb(13,13,13)"/><path d="M182,921.5 H254" stroke="rgb(26,26,26)" stroke-width="1" opacity="0.7"/><rect x="264" y="921" width="90" height="28" rx="4" fill="rgb(11,11,11)"/><path d="M268,921.5 H348" stroke="rgb(34,34,34)" stroke-width="1" opacity="0.7"/><rect x="358" y="921" width="89" height="28" rx="4" fill="rgb(13,13,13)"/><path d="M362,921.5 H441" stroke="rgb(33,33,33)" stroke-width="1" opacity="0.7"/><rect x="451" y="921" width="84" height="28" rx="4" fill="rgb(9,9,9)"/><path d="M455,921.5 H529" stroke="rgb(31,31,31)" stroke-width="1" opacity="0.7"/><rect x="539" y="921" width="81" height="28" rx="4" fill="rgb(12,12,12)"/><path d="M543,921.5 H614" stroke="rgb(28,28,28)" stroke-width="1" opacity="0.7"/><rect x="624" y="921" width="83" height="28" rx="4" fill="rgb(14,14,14)"/><path d="M628,921.5 H701" stroke="rgb(27,27,27)" stroke-width="1" opacity="0.7"/><rect x="711" y="921" width="95" height="28" rx="4" fill="rgb(11,11,11)"/><path d="M715,921.5 H800" stroke="rgb(32,32,32)" stroke-width="1" opacity="0.7"/><rect x="-66" y="955" width="89" height="28" rx="4" fill="rgb(12,12,12)"/><path d="M-62,955.5 H17" stroke="rgb(31,31,31)" stroke-width="1" opacity="0.7"/><rect x="27" y="955" width="94" height="28" rx="4" fill="rgb(9,9,9)"/><path d="M31,955.5 H115" stroke="rgb(32,32,32)" stroke-width="1" opacity="0.7"/><rect x="125" y="955" width="86" height="28" rx="4" fill="rgb(11,11,11)"/><path d="M129,955.5 H205" stroke="rgb(25,25,25)" stroke-width="1" opacity="0.7"/><rect x="215" y="955" width="95" height="28" rx="4" fill="rgb(9,9,9)"/><path d="M219,955.5 H304" stroke="rgb(28,28,28)" stroke-width="1" opacity="0.7"/><rect x="314" y="955" width="94" height="28" rx="4" fill="rgb(9,9,9)"/><path d="M318,955.5 H402" stroke="rgb(32,32,32)" stroke-width="1" opacity="0.7"/><rect x="412" y="955" width="94" height="28" rx="4" fill="rgb(11,11,11)"/><path d="M416,955.5 H500" stroke="rgb(30,30,30)" stroke-width="1" opacity="0.7"/><rect x="510" y="955" width="86" height="28" rx="4" fill="rgb(10,10,10)"/><path d="M514,955.5 H590" stroke="rgb(25,25,25)" stroke-width="1" opacity="0.7"/><rect x="600" y="955" width="98" height="28" rx="4" fill="rgb(9,9,9)"/><path d="M604,955.5 H692" stroke="rgb(26,26,26)" stroke-width="1" opacity="0.7"/><rect x="702" y="955" width="96" height="28" rx="4" fill="rgb(11,11,11)"/><path d="M706,955.5 H792" stroke="rgb(29,29,29)" stroke-width="1" opacity="0.7"/><filter id="nz" x="0" y="0" width="100%" height="100%"><feTurbulence type="fractalNoise" baseFrequency="0.08 0.5" numOctaves="3" seed="3"/><feColorMatrix values="0 0 0 0 1  0 0 0 0 1  0 0 0 0 1  1.2 0 0 0 -0.62"/></filter><rect width="712" height="974" filter="url(#nz)" opacity="0.10"/></svg><!--/BRICKS--></div>
<!--MAN--><svg class="man" width="720" height="300" viewBox="0 0 720 300" style="position:absolute;left:0;top:0">
<defs>
<path id="bodyp" d="M45.0,280.0 C44.7,279.3 43.6,276.7 43.3,276.0 C42.9,273.8 42.1,267.3 41.0,263.0 C39.9,258.7 38.2,254.8 36.7,250.0 C35.2,245.2 32.8,238.1 32.2,234.4 C31.6,230.7 33.1,228.9 33.3,227.8 C34.6,224.5 38.2,214.1 41.0,207.8 C43.8,201.5 47.0,195.2 50.0,190.0 C53.0,184.8 57.5,180.2 58.9,176.7 C60.3,173.2 58.1,172.1 58.3,169.0 C58.5,165.9 59.0,161.1 60.3,158.0 C61.5,154.9 64.9,151.8 65.8,150.5 C68.3,149.1 78.5,143.4 81.0,142.0 C82.5,140.7 86.8,136.5 90.0,134.0 C93.2,131.5 97.8,128.8 100.5,127.0 C103.2,125.2 105.1,124.1 106.0,123.5 C105.5,122.8 103.8,119.9 103.3,119.2 C103.1,117.3 102.1,111.2 102.0,108.0 C101.9,104.8 102.2,103.0 102.5,100.0 C102.8,97.0 102.8,94.5 104.0,90.0 C105.2,85.5 106.8,77.7 110.0,73.0 C113.2,68.3 118.0,64.4 123.0,61.7 C128.0,59.0 134.4,57.3 140.0,56.7 C145.6,56.1 151.2,56.6 156.7,58.3 C162.2,60.0 168.3,62.8 173.0,66.7 C177.7,70.6 181.9,77.0 185.0,81.7 C188.1,86.4 190.0,90.3 191.7,95.0 C193.4,99.7 193.6,105.5 195.0,110.0 C196.4,114.5 199.4,118.4 200.0,121.7 C200.6,125.0 199.4,127.2 198.3,130.0 C197.2,132.8 194.4,135.2 193.3,138.3 C192.2,141.4 193.1,145.2 191.7,148.3 C190.3,151.4 187.5,154.6 185.0,156.7 C182.5,158.8 179.8,159.8 176.7,160.8 C173.6,161.8 168.4,162.2 166.7,162.5 C168.4,163.8 175.3,168.8 177.0,170.0 C178.8,171.0 186.0,174.4 188.0,176.0 C190.0,177.6 188.8,179.0 189.0,179.6 C190.7,182.3 196.6,191.5 199.0,196.0 C201.4,200.5 202.1,202.5 203.5,206.6 C204.9,210.7 206.3,216.2 207.6,220.4 C208.8,224.6 209.5,226.7 211.0,232.0 C212.5,237.3 215.8,249.1 216.8,252.5 C219.5,250.4 227.4,244.3 233.0,240.0 C238.6,235.7 247.5,228.8 250.4,226.5 C250.4,223.2 250.4,210.0 250.4,206.7 C250.9,206.1 253.0,203.6 253.5,203.0 C254.7,200.9 259.3,192.6 260.5,190.5 C261.5,190.1 264.9,187.7 266.7,187.8 C268.4,187.9 270.3,190.5 271.0,191.0 C271.9,191.1 274.7,191.1 276.7,191.8 C278.7,192.5 280.8,193.2 283.0,195.0 C285.2,196.8 288.1,199.7 290.0,202.5 C291.9,205.3 293.1,208.8 294.5,212.0 C295.9,215.2 297.7,219.2 298.5,222.0 C299.3,224.8 299.4,226.3 299.2,228.5 C298.9,230.7 297.4,233.9 297.0,235.0 C296.7,236.1 295.9,240.8 295.0,241.5 C294.1,242.2 292.1,239.8 291.5,239.5 C291.0,239.1 289.4,236.8 288.3,237.0 C287.2,237.2 286.5,239.0 285.0,240.5 C283.5,242.0 280.9,244.1 279.2,246.0 C277.5,247.9 277.0,248.9 275.0,252.0 C273.0,255.1 268.5,262.6 267.2,264.7 C265.9,266.5 260.9,273.6 259.6,275.4 C259.2,276.2 292.8,279.2 257.0,280.0 C221.2,280.8 80.3,280.0 45.0,280.0 Z"/>
<path id="crowp" d="M29.5,100.5 C30.4,102.6 33.1,108.4 35.0,113.0 C36.9,117.6 39.0,123.8 40.8,128.0 C42.6,132.2 43.7,135.3 45.8,138.0 C47.9,140.7 50.1,143.0 53.3,144.0 C56.5,145.0 60.5,144.7 65.0,144.0 C69.5,143.3 74.7,141.1 80.0,140.0 C85.3,138.9 88.4,136.2 96.7,137.5 C105.0,138.8 118.3,142.9 130.0,148.0 C141.7,153.1 152.0,161.6 167.0,168.0 C182.0,174.4 203.5,180.7 220.0,186.4 C236.5,192.2 258.3,199.8 266.0,202.5"/>
<clipPath id="bclip"><use href="#bodyp"/></clipPath>
</defs>
<use href="#crowp" fill="none" stroke="#fff" stroke-width="11.5" stroke-linecap="round" stroke-linejoin="round"/>
<g clip-path="url(#bclip)"><use href="#bodyp" fill="#111" stroke="none"/>
<path d="M103.3,119.2 C103.1,117.3 102.1,111.2 102.0,108.0 C101.9,104.8 102.2,103.0 102.5,100.0 C102.8,97.0 102.8,94.5 104.0,90.0 C105.2,85.5 106.8,77.7 110.0,73.0 C113.2,68.3 118.0,64.4 123.0,61.7 C128.0,59.0 134.4,57.3 140.0,56.7 C145.6,56.1 151.2,56.6 156.7,58.3 C162.2,60.0 168.3,62.8 173.0,66.7 C177.7,70.6 181.9,77.0 185.0,81.7 C188.1,86.4 190.0,90.3 191.7,95.0 C193.4,99.7 193.6,105.5 195.0,110.0 C196.4,114.5 199.4,118.4 200.0,121.7 C200.6,125.0 199.4,127.2 198.3,130.0 C197.2,132.8 194.4,135.2 193.3,138.3 C192.2,141.4 193.1,145.2 191.7,148.3 C190.3,151.4 187.5,154.6 185.0,156.7 C182.5,158.8 179.8,159.8 176.7,160.8 C173.6,161.8 168.4,162.2 166.7,162.5 C163.9,161.8 156.4,160.8 150.0,158.0 C143.6,155.2 134.7,150.7 128.0,146.0 C121.3,141.3 114.1,134.5 110.0,130.0 C105.9,125.5 104.4,121.0 103.3,119.2 Z" fill="#060606"/>
<path d="M62,160 Q80,140 105,138 Q135,150 150,175 Q140,190 115,192 Q85,190 62,160 Z" fill="#161616"/>
<path d="M150,200 Q185,205 200,225 Q210,250 205,280 L140,280 Q150,240 150,200 Z" fill="#141414"/>
<use href="#bodyp" fill="none" stroke="#fff" stroke-width="7" stroke-linejoin="round"/></g>
<use href="#crowp" fill="none" stroke="#2e2e2e" stroke-width="5" stroke-linecap="round"/><use href="#crowp" fill="none" stroke="#5a5a5a" stroke-width="1.2" stroke-linecap="round" transform="translate(0,-1.2)"/>
<path d="M30,101 L38,118" stroke="#777" stroke-width="1" fill="none"/>
<path d="M262,196 L267,192 L272,195 L279,195 L284,199 L290,208 L294,222 L295,230 L291,236 L280,241 L274,250 L262,252 L254,230 L254,208 Z" fill="#141414"/>
<ellipse cx="275.5" cy="209" rx="3.6" ry="6" transform="rotate(-25 275.5 209)" fill="#3a3a3a" opacity="0.6"/>
<path d="M254,214 Q272,212 293,228 L290,236 L280,241 L274,250 L262,252 L254,230 Z" fill="#0c0c0c"/>
<ellipse cx="174" cy="107.5" rx="9.5" ry="3.4" fill="#d8a88e"/>
<ellipse cx="178" cy="107.8" rx="2.6" ry="2.6" fill="#3c2e2a"/>
<ellipse cx="188.5" cy="135" rx="2" ry="3.2" fill="#c48b78"/>
</svg><!--/MAN-->
<div class="title m" style="top:34px;font-size:59px;line-height:62px;letter-spacing:1.25px">Most Stolen-from</div>
<div class="title m" style="top:98px;font-size:59px;line-height:62px;letter-spacing:1.25px">Sectors</div>
<div class="sub m" style="top:172px">Based on small business theft<br>claims between January 2022<br>and August 2025</div>
<div class="panel"></div>
<div class="axis"></div>
<div class="axis" style="left:676px"></div>
<!--CHART-->
<div class="grid" style="left:353px"></div>
<div class="grid" style="left:515px"></div>
<div class="bar" style="top:311.0px;width:451.1px"></div>
<div class="bar" style="top:357.8px;width:370.1px"></div>
<div class="bar" style="top:404.6px;width:196.9px"></div>
<div class="bar" style="top:451.4px;width:143.1px"></div>
<div class="bar" style="top:498.2px;width:115.0px"></div>
<div class="bar" style="top:545.0px;width:111.0px"></div>
<div class="bar" style="top:591.8px;width:105.0px"></div>
<div class="bar" style="top:638.6px;width:41.8px"></div>
<div class="bar" style="top:685.4px;width:25.8px"></div>
<div class="bar" style="top:732.2px;width:16.9px"></div>
<div class="bar" style="top:779.0px;width:10.8px"></div>
<div class="bar" style="top:825.8px;width:8.8px"></div>
<div class="grid" style="left:353px;background:rgba(180,200,210,0.25)"></div>
<div class="grid" style="left:515px;background:rgba(180,200,210,0.25)"></div>
<div class="lab m" style="top:308.8px">Food &amp; Drink</div>
<div class="circ" style="left:629.35px;top:308.85px"><!--ICON0--><svg width="30" height="30" viewBox="0 0 30 30" style="position:absolute;left:-0.25px;top:-0.25px"><g fill="none" stroke="#1c4c78" stroke-width="1.15" stroke-linecap="round" stroke-linejoin="round"><circle cx="12.4" cy="9.7" r="0.9"/><path d="M5.4,18.7 A6.9,7.8 0 0 1 18.8,15.2"/><path d="M4.3,18.9 H20 M4.3,21 H20.5"/><path d="M18.9,9.9 H24.6 L24.8,13 Q24.5,17.4 21.7,17.4 Q18.9,17.4 18.7,13 Z"/><path d="M18.8,13.6 H24.7"/><path d="M21.7,17.4 V22.4 M19.2,22.6 H24.2"/><path d="M22.9,5.3 V8 M21.55,6.65 H24.25"/></g></svg><!--/ICON0--></div>
<div class="pct m" style="top:312.4px;right:101.5px;transform:scaleX(0.92);transform-origin:right center">27.8%</div>
<div class="lab m" style="top:355.6px">Retail</div>
<div class="circ" style="left:548.35px;top:355.65px"><!--ICON1--><svg width="30" height="30" viewBox="0 0 30 30" style="position:absolute;left:-0.25px;top:-0.25px"><g fill="none" stroke="#1c4c78" stroke-width="1.15" stroke-linecap="round" stroke-linejoin="round"><path d="M5.7,8.9 H8.7 L11.2,20.1 H21.9"/><path d="M9.7,11.6 H24.4 L21.7,18.1 H10.7"/><circle cx="12.2" cy="22.3" r="1.1"/><circle cx="19.9" cy="22.3" r="1.1"/></g><rect x="9.8" y="11" width="14.4" height="1.3" fill="#4c86ad"/><rect x="10.8" y="18.6" width="11" height="1.3" fill="#8fc6dd"/></svg><!--/ICON1--></div>
<div class="pct m" style="top:359.2px;right:182.9px;transform:scaleX(0.92);transform-origin:right center">22.8%</div>
<div class="lab m" style="top:402.4px">Beauty</div>
<div class="circ" style="left:375.15px;top:402.45px"><!--ICON2--><svg width="30" height="30" viewBox="0 0 30 30" style="position:absolute;left:-0.25px;top:-0.25px"><g fill="none" stroke="#1c4c78" stroke-width="1.15" stroke-linecap="round" stroke-linejoin="round"><path d="M8.1,6.2 Q11.6,5.3 15.1,6.4 L12.4,11.9 H10.8 Z"/><rect x="10.5" y="12.3" width="2.4" height="12.3" rx="0.8"/><rect x="15.4" y="16.9" width="6.2" height="7.7" rx="0.6"/><path d="M15.4,18.9 H21.6"/><path d="M16.9,16.9 V11.9 L17.1,8.9 L19.9,7.4 L20.4,8.4 V16.9"/><path d="M16.9,11.9 H20.4"/></g></svg><!--/ICON2--></div>
<div class="pct m" style="top:406.0px;right:356.1px;transform:scaleX(0.92);transform-origin:right center">12.1%</div>
<div class="lab m" style="top:449.2px">Trades</div>
<div class="circ" style="left:321.35px;top:449.25px"><!--ICON3--><svg width="30" height="30" viewBox="0 0 30 30" style="position:absolute;left:-0.25px;top:-0.25px"><g fill="none" stroke="#1c4c78" stroke-width="1.15" stroke-linecap="round" stroke-linejoin="round"><path d="M5.2,8.5 H11.4 M17.9,8.5 H24.2"/><rect x="11.4" y="5.3" width="6.5" height="5.2" rx="0.8"/><rect x="12.4" y="10.5" width="4.5" height="1.6"/><rect x="13" y="12.4" width="3.6" height="4.1"/><path d="M14.8,16.5 V18.6"/><path d="M11.7,18.2 L13.4,19.8 M13.4,18.2 L11.7,19.8 M16.2,18.2 L17.9,19.8 M17.9,18.2 L16.2,19.8"/><path d="M8.4,23 Q10,21.8 11.5,22.8 Q13,21.6 14.8,22.6 Q16.5,21.6 18,22.8 Q19.8,21.8 21.4,23"/></g><circle cx="14.6" cy="7.6" r="0.8" fill="#1c4c78"/><ellipse cx="5.6" cy="8.5" rx="1" ry="0.7" fill="#1c4c78"/><ellipse cx="23.8" cy="8.5" rx="1" ry="0.7" fill="#1c4c78"/></svg><!--/ICON3--></div>
<div class="pct m" style="top:452.8px;right:407.2px;transform:scaleX(0.92);transform-origin:right center">8.8%</div>
<div class="lab m" style="top:496.0px">Health &amp; Fitness</div>
<div class="circ" style="left:293.25px;top:496.05px"><!--ICON4--><svg width="30" height="30" viewBox="0 0 30 30" style="position:absolute;left:-0.25px;top:-0.25px"><g fill="none" stroke="#1c4c78" stroke-width="1.15" stroke-linecap="round" stroke-linejoin="round"><circle cx="14.25" cy="8.6" r="1.9"/><path d="M5.3,19.6 Q4.5,18.6 5.7,17.9 L8.7,15.3 Q9.7,13.1 11.7,12.6 H16.8 Q18.8,13.1 19.8,15.3 L22.8,17.9 Q24,18.6 23.2,19.6"/><path d="M11.8,15.4 V20.4 M16.7,15.4 V20.4"/><path d="M5.3,19.6 Q4.2,22.9 7.6,22.8 H20.9 Q24.3,22.9 23.2,19.6"/><path d="M6.6,20.2 Q10,19.6 12.5,21.2 H16 Q18.5,19.6 21.9,20.2"/><circle cx="5.8" cy="12.8" r="0.95"/><path d="M6.75,12.6 V9.3 L10,8.5"/><circle cx="20.5" cy="8.6" r="0.95"/><path d="M21.45,8.4 V5.2 L24.8,4.7"/></g></svg><!--/ICON4--></div>
<div class="pct m" style="top:499.6px;right:437.3px;transform:scaleX(0.92);transform-origin:right center">7.4%</div>
<div class="lab m" style="top:542.8px">Automotive</div>
<div class="circ" style="left:289.25px;top:542.85px"><!--ICON5--><svg width="30" height="30" viewBox="0 0 30 30" style="position:absolute;left:-0.25px;top:-0.25px"><g fill="none" stroke="#1c4c78" stroke-width="1.15" stroke-linecap="round" stroke-linejoin="round"><path d="M7,16.1 L8.3,12.4 Q8.6,11.7 9.4,11.7 H15.6 Q16.4,11.7 16.7,12.4 L18,16.1"/><rect x="5.3" y="16.1" width="14.3" height="5.5" rx="1.2"/><path d="M6.5,21.6 V23.6 H8.8 V21.6 M16.2,21.6 V23.6 H18.5 V21.6"/><circle cx="7.7" cy="18.9" r="0.9"/><circle cx="17.3" cy="18.9" r="0.9"/><path d="M11.4,19 H13.6"/><circle cx="21.2" cy="8.2" r="2.1"/><path d="M19.3,12 Q21.4,10.6 23.5,11.8 Q24.8,13 24.4,15 L22.3,15.6 M19.3,12 L19.7,19.4"/></g></svg><!--/ICON5--></div>
<div class="pct m" style="top:546.4px;right:437.9px;transform:scaleX(0.92);transform-origin:right center">7.1%</div>
<div class="lab m" style="top:589.6px">Professional</div>
<div class="circ" style="left:283.25px;top:589.65px"><!--ICON6--><svg width="30" height="30" viewBox="0 0 30 30" style="position:absolute;left:-0.25px;top:-0.25px"><g fill="none" stroke="#1c4c78" stroke-width="1.15" stroke-linecap="round" stroke-linejoin="round"><circle cx="15.2" cy="8.9" r="3.1"/><path d="M12.7,10.9 L11.1,11.7 L13.2,11.9"/><path d="M4.4,11.7 Q5.4,10.6 6.6,11.4 L8.6,16.2 L12.3,17.5 L13.3,23.2"/><path d="M4.7,12.3 L7,22.9"/><path d="M6.2,18.9 H11.4 L11,21 H6.8"/><path d="M25.6,11.7 Q24.6,10.6 23.4,11.4 L21.4,16.2 L17.7,17.5 L16.7,23.2"/><path d="M25.3,12.3 L23,22.9"/><path d="M23.8,18.9 H18.6 L19,21 H23.2"/><path d="M13.9,21.2 H16.1 M15,21.2 V23.4"/></g></svg><!--/ICON6--></div>
<div class="pct m" style="top:593.2px;right:448.0px;transform:scaleX(0.92);transform-origin:right center">6.9%</div>
<div class="lab m" style="top:636.4px">Services</div>
<div class="circ" style="left:220.00px;top:636.45px"><!--ICON7--><svg width="30" height="30" viewBox="0 0 30 30" style="position:absolute;left:-0.25px;top:-0.25px"><g fill="none" stroke="#1c4c78" stroke-width="1.15" stroke-linecap="round" stroke-linejoin="round"><ellipse cx="16.1" cy="9.2" rx="2.6" ry="3"/><path d="M13.6,8.2 Q12.6,6.3 14.8,6.1 Q17.6,5.8 18.6,8.2 M13.5,9 Q11.4,10.6 12.6,12.4"/><path d="M15.2,12.1 L15.4,14.1 Q19.8,13.8 21.8,15.8 Q22.8,17 22.8,19 V23.6 M19.9,18.2 V23.2"/><path d="M6.6,13 H11.3 M7.1,13 V14.6 H10.6 V13 M11.3,13.7 L12.5,13.2"/><path d="M8.1,14.6 V17 Q6.8,17.6 6.8,18.8 V24.4 H12.2 V18.8 Q12.2,17.6 10.3,17 V14.6"/><path d="M9.3,20 V23"/><circle cx="16.3" cy="22.5" r="1.9"/></g></svg><!--/ICON7--></div>
<div class="pct m" style="top:640.0px;left:256.8px;transform:scaleX(0.92);transform-origin:left center">2.6%</div>
<div class="lab m" style="top:683.2px">Manufacturing</div>
<div class="circ" style="left:204.00px;top:683.25px"><!--ICON8--><svg width="30" height="30" viewBox="0 0 30 30" style="position:absolute;left:-0.25px;top:-0.25px"><g fill="none" stroke="#1c4c78" stroke-width="1.15" stroke-linecap="round" stroke-linejoin="round"><rect x="6.2" y="9.7" width="7.8" height="5.7"/><rect x="15.5" y="9.7" width="8" height="5.7"/><path d="M9.5,9.7 V11 H10.6 V9.7 M18.9,9.7 V11 H20 V9.7"/><rect x="3.6" y="16.4" width="22.6" height="4" rx="2"/><circle cx="7.5" cy="18.4" r="0.75"/><circle cx="14.8" cy="18.4" r="0.75"/><circle cx="22" cy="18.4" r="0.75"/></g></svg><!--/ICON8--></div>
<div class="pct m" style="top:686.8px;left:240.2px;transform:scaleX(0.92);transform-origin:left center">1.7%</div>
<div class="lab m" style="top:730.0px">Miscellaneous</div>
<div class="circ" style="left:195.15px;top:730.05px"><!--ICON9--><svg width="30" height="30" viewBox="0 0 30 30" style="position:absolute;left:-0.25px;top:-0.25px"><g fill="none" stroke="#1c4c78" stroke-width="1.15" stroke-linecap="round" stroke-linejoin="round"><rect x="5.4" y="12" width="17.4" height="10.6" rx="0.9"/><path d="M5.6,12.5 L14.2,18.2 L22.6,12.5 M5.6,22.3 L11.8,16.4 M22.6,22.3 L16.6,16.4"/><path d="M13,11.4 V9.2 Q13.5,8.5 14.6,8.5 L19.5,5.8 L20.3,11.2 L15.5,9.6 L14.7,11.6"/><path d="M22,6.6 L23.6,4.4 M22.5,8.7 L25.3,8.3 M22.4,10.4 L24.6,11.4"/></g><rect x="5.6" y="21.3" width="17" height="1" fill="#4c86ad"/></svg><!--/ICON9--></div>
<div class="pct m" style="top:733.6px;left:231.0px;transform:scaleX(0.92);transform-origin:left center">1.2%</div>
<div class="lab m" style="top:776.8px">Leisure</div>
<div class="circ" style="left:189.00px;top:776.85px"><!--ICON10--><svg width="30" height="30" viewBox="0 0 30 30" style="position:absolute;left:-0.25px;top:-0.25px"><g fill="none" stroke="#1c4c78" stroke-width="1.15" stroke-linecap="round" stroke-linejoin="round"><ellipse cx="11.8" cy="11.4" rx="2.5" ry="2.9"/><path d="M9.3,10.6 Q9.4,7.9 11.8,7.9 Q14.2,7.9 14.3,10.6 Q12,9.6 9.3,10.6 Z"/><path d="M6.1,23.6 V21.2 Q6.1,17.6 9.8,17.3 H13.8 Q16.8,17.5 17.2,19.8 M6.1,23.6 H17 M9.8,17.3 L11.8,19.2 L13.8,17.3 M8.4,23.6 V21.2"/><rect x="17.3" y="7.3" width="6.7" height="5.4" rx="0.7"/><path d="M19.8,8.7 L21.9,10 L19.8,11.3 Z"/><path d="M18.6,12.7 L18.2,14.2 L19.6,12.9"/><rect x="17.1" y="17.7" width="6.9" height="5.6" rx="0.5"/><path d="M17.1,16.2 L24,15.3 M17.1,20 H24"/></g></svg><!--/ICON10--></div>
<div class="pct m" style="top:780.4px;left:224.2px;transform:scaleX(0.92);transform-origin:left center">1.0%</div>
<div class="lab m" style="top:823.6px">Security</div>
<div class="circ" style="left:187.00px;top:823.65px"><!--ICON11--><svg width="30" height="30" viewBox="0 0 30 30" style="position:absolute;left:-0.25px;top:-0.25px"><g fill="none" stroke="#1c4c78" stroke-width="1.15" stroke-linecap="round" stroke-linejoin="round"><path d="M14.8,6 Q11.5,8.4 7.6,8.7 V14.2 Q8.2,20.2 14.8,23.6 Q21.4,20.2 22,14.2 V8.7 Q18.1,8.4 14.8,6 Z"/><rect x="11.8" y="13.5" width="6.2" height="4.9" rx="1"/><path d="M12.7,13.5 V12.2 A2.2,2.2 0 0 1 17.1,12.2 V13.5"/><path d="M14.9,15.3 V16.9"/></g><circle cx="14.9" cy="15.5" r="0.65" fill="#1c4c78"/></svg><!--/ICON11--></div>
<div class="pct m" style="top:827.2px;left:221.6px;transform:scaleX(0.92);transform-origin:left center">0.7%</div>
<div class="tick m" style="left:162.0px">0%</div>
<div class="tick m" style="left:323.5px">10%</div>
<div class="tick m" style="left:485.0px">20%</div>
<div class="tick m" style="left:647.0px">30%</div>
<div class="xt m">% of total claims</div>
<!--/CHART-->
<div class="foot m">2025 BizCover</div>
<svg width="72" height="26" viewBox="0 0 72 26" style="position:absolute;left:124px;top:945px">
<rect x="0" y="0" width="72" height="25" fill="#000"/>
<rect x="1" y="1" width="70" height="17" fill="#aab0a8"/>
<circle cx="12.7" cy="12.8" r="10.2" fill="#000"/>
<circle cx="12.7" cy="12.8" r="8.6" fill="#fff"/>
<text x="12.7" y="16.2" text-anchor="middle" font-family="Liberation Sans" font-weight="bold" font-size="10" fill="#000" letter-spacing="-0.6">cc</text>
<circle cx="38" cy="9" r="5.6" fill="#000"/><circle cx="38" cy="9" r="4.6" fill="#fff"/>
<circle cx="38" cy="6.3" r="0.9" fill="#000"/><path d="M36.8,7.6 H39.2 V10.4 H38.6 V12.6 H37.4 V10.4 H36.8 Z" fill="#000"/>
<circle cx="57.1" cy="9" r="5.6" fill="#000"/><circle cx="57.1" cy="9" r="4.6" fill="#fff"/>
<path d="M54.9,8.2 A2.3,2.3 0 1 1 55.1,10.2" fill="none" stroke="#000" stroke-width="1.3"/><path d="M53.8,7.4 L55,9.4 L56.2,7.4 Z" fill="#000"/>
<text x="38" y="23.6" text-anchor="middle" font-family="Liberation Sans" font-weight="bold" font-size="4.6" fill="#c8c8c8">BY</text>
<text x="57.1" y="23.6" text-anchor="middle" font-family="Liberation Sans" font-weight="bold" font-size="4.6" fill="#c8c8c8">SA</text>
</svg>
</body></html>
